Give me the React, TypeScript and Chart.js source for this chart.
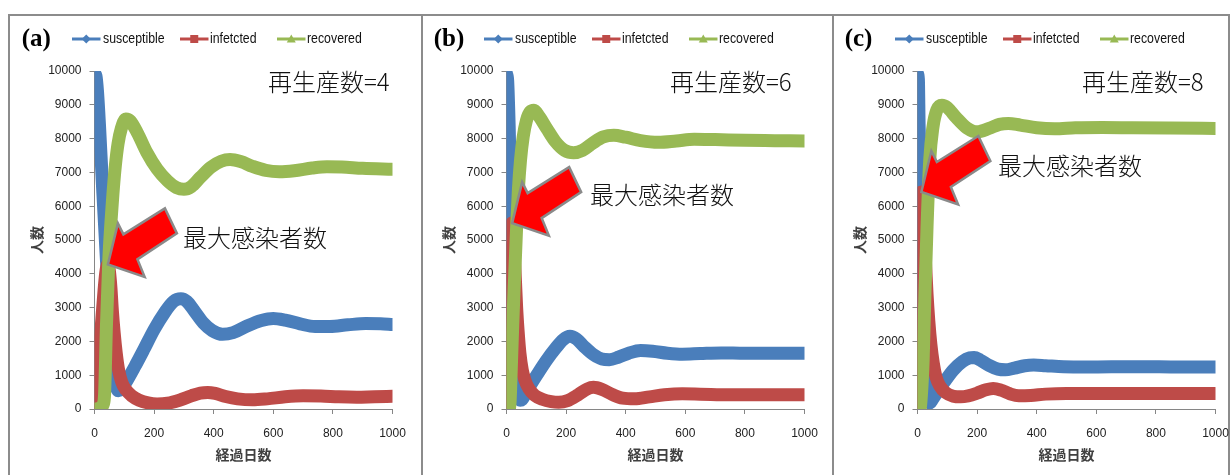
import React, { useEffect, useRef } from 'react';
import { Chart, registerables } from 'chart.js';

Chart.register(...registerables);

type Pt = [number, number];

// ---------- data ----------
const xTicks = [0, 200, 400, 600, 800, 1000];
const yTicks = [0, 1000, 2000, 3000, 4000, 5000, 6000, 7000, 8000, 9000, 10000];
const seriesNames = ['susceptible', 'infetcted', 'recovered'];
const panelLabels = ['(a)', '(b)', '(c)'];
const reproductionNumbers = [4, 6, 8];
const xAxisTitle = '経過日数';
const yAxisTitle = '人数';
const peakNote = '最大感染者数';
const r0Prefix = '再生産数=';

const susceptibleA: Pt[] = [
  [0, 9920], [5, 9850], [10, 9400], [17, 8350], [28, 6400], [40, 4420], [50, 2900], [58, 1800],
  [65, 1100], [72, 680], [80, 540], [90, 580], [105, 780], [135, 1250], [165, 1750], [200, 2350],
  [235, 2850], [265, 3180], [290, 3260], [310, 3180], [335, 2900], [365, 2550], [395, 2320],
  [430, 2210], [465, 2260], [510, 2450], [560, 2620], [600, 2680], [640, 2630], [690, 2520],
  [740, 2440], [790, 2440], [850, 2490], [910, 2530], [960, 2520], [1000, 2500],
];
const infectedA: Pt[] = [
  [0, 150], [6, 500], [12, 1150], [18, 1900], [25, 2700], [32, 3500], [38, 4050], [45, 4280],
  [50, 4080], [55, 3600], [60, 2900], [66, 2250], [73, 1650], [81, 1150], [92, 780], [106, 560],
  [125, 390], [150, 260], [180, 180], [210, 150], [245, 170], [285, 260], [325, 390], [355, 470],
  [380, 490], [405, 460], [440, 370], [480, 300], [530, 270], [580, 300], [640, 360], [700, 390],
  [760, 385], [820, 360], [880, 350], [940, 365], [1000, 375],
];
const recoveredA: Pt[] = [
  [0, 0], [12, 10], [22, 60], [30, 150], [34, 470], [40, 2440], [48, 4400], [55, 5500], [62, 6380],
  [70, 7200], [79, 7850], [90, 8300], [105, 8580], [120, 8520], [145, 8150], [175, 7600],
  [210, 7100], [245, 6750], [275, 6550], [300, 6500], [325, 6580], [355, 6850], [390, 7150],
  [425, 7330], [455, 7380], [490, 7320], [530, 7180], [575, 7060], [620, 7020], [670, 7050],
  [730, 7130], [780, 7170], [830, 7160], [900, 7120], [1000, 7090],
];

const susceptibleB: Pt[] = [
  [0, 9920], [4, 9700], [9, 8350], [14, 6400], [19, 5450], [23, 4400], [28, 3100], [33, 1900],
  [38, 950], [42, 450], [46, 260], [52, 280], [62, 420], [80, 700], [105, 1050], [135, 1450],
  [165, 1800], [190, 2050], [213, 2150], [235, 2070], [260, 1850], [290, 1620], [320, 1480],
  [345, 1460], [375, 1530], [410, 1650], [450, 1730], [490, 1710], [540, 1650], [590, 1620],
  [650, 1640], [720, 1660], [800, 1650], [900, 1650], [1000, 1650],
];
const infectedB: Pt[] = [
  [0, 100], [4, 700], [8, 1900], [11, 3300], [14, 4600], [17, 5400], [19, 5500], [22, 5250],
  [26, 4600], [30, 3800], [34, 3000], [39, 2300], [45, 1650], [53, 1150], [62, 850], [75, 600],
  [95, 400], [120, 290], [150, 220], [175, 200], [205, 250], [240, 420], [270, 590], [292, 640],
  [320, 580], [355, 430], [390, 320], [430, 300], [480, 360], [530, 420], [590, 450], [650, 440],
  [750, 420], [850, 420], [1000, 420],
];
const recoveredB: Pt[] = [
  [0, 0], [8, 0], [12, 200], [17, 1450], [21, 2500], [25, 3420], [30, 4500], [34, 5390],
  [40, 6500], [47, 7360], [56, 8050], [67, 8540], [80, 8800], [92, 8840], [110, 8650],
  [135, 8300], [165, 7900], [195, 7650], [225, 7580], [255, 7650], [290, 7870], [325, 8050],
  [360, 8100], [400, 8040], [450, 7940], [510, 7890], [570, 7930], [630, 7980], [700, 7970],
  [800, 7950], [900, 7940], [1000, 7930],
];

const susceptibleC: Pt[] = [
  [0, 9920], [3, 9750], [5.5, 8350], [10, 7360], [13, 6570], [16, 5500], [20, 3900], [24, 2600],
  [28, 1450], [32, 650], [36, 260], [42, 180], [50, 280], [65, 480], [90, 800], [120, 1150],
  [150, 1400], [175, 1510], [190, 1520], [210, 1450], [240, 1290], [270, 1180], [295, 1160],
  [325, 1210], [360, 1280], [390, 1300], [430, 1280], [490, 1250], [560, 1240], [650, 1250],
  [750, 1250], [850, 1245], [1000, 1240],
];
const infectedC: Pt[] = [
  [0, 100], [3, 800], [6, 2400], [9, 4300], [11, 5600], [13, 6420], [15, 6300], [18, 5900],
  [22, 5200], [27, 4300], [32, 3400], [38, 2600], [45, 1900], [53, 1350], [62, 950], [75, 680],
  [95, 480], [120, 380], [145, 360], [170, 390], [200, 470], [230, 570], [254, 610], [280, 560],
  [310, 450], [340, 390], [380, 400], [430, 440], [500, 460], [600, 460], [800, 455], [1000, 455],
];
const recoveredC: Pt[] = [
  [0, 0], [8, 0], [13, 400], [19, 1450], [25, 3420], [32, 5390], [41, 7360], [52, 8350],
  [65, 8850], [82, 8990], [100, 8920], [130, 8620], [165, 8320], [200, 8200], [240, 8300],
  [275, 8420], [305, 8450], [345, 8400], [400, 8320], [460, 8290], [530, 8320], [620, 8330],
  [720, 8320], [850, 8310], [1000, 8300],
];

// ---------- styling / layout ----------
const COLORS = ['#4A7EBB', '#BE4B48', '#98B954'];
const AXIS_COLOR = '#868686';
const PLOT_LEFT = 85.5; // inside canvas
const PLOT_TOP = 71;
const PLOT_BOTTOM = 409;
const CANVAS_W = 410;
const CANVAS_H = 475;
const PLOT_W = 298;

// arrow shape relative to its tip (pixels)
const ARROW_SHAPE: Pt[] = [
  [0, 0], [10, -41], [15.5, -30], [57, -56], [69, -31], [29.5, -5], [36.7, 12.5],
];

const PANELS = [
  { canvasLeft: 9, series: [susceptibleA, infectedA, recoveredA], r0Left: 268, noteLeft: 183, noteCenter: 238.5 },
  { canvasLeft: 421, series: [susceptibleB, infectedB, recoveredB], r0Left: 670, noteLeft: 590, noteCenter: 195 },
  { canvasLeft: 832, series: [susceptibleC, infectedC, recoveredC], r0Left: 1082, noteLeft: 998, noteCenter: 166.5 },
];

const arrowPlugin = {
  id: 'peakArrow',
  afterDatasetsDraw(chart: any) {
    const data = chart.data.datasets[1].data as { x: number; y: number }[];
    const peak = data.reduce((a, b) => (b.y > a.y ? b : a));
    const tx = chart.scales.x.getPixelForValue(peak.x);
    const ty = chart.scales.y.getPixelForValue(peak.y);
    const ctx = chart.ctx as CanvasRenderingContext2D;
    ctx.save();
    ctx.beginPath();
    ARROW_SHAPE.forEach(([dx, dy], i) => {
      if (i === 0) ctx.moveTo(tx + dx, ty + dy);
      else ctx.lineTo(tx + dx, ty + dy);
    });
    ctx.closePath();
    ctx.fillStyle = '#FF0000';
    ctx.fill();
    ctx.lineWidth = 2.5;
    ctx.strokeStyle = '#8a8a8a';
    ctx.lineJoin = 'miter';
    ctx.stroke();
    ctx.restore();
  },
};

function PanelChart({ idx }: { idx: number }) {
  const ref = useRef<HTMLCanvasElement>(null);
  const cfg = PANELS[idx];
  useEffect(() => {
    const orders = [3, 2, 1];
    const chart = new Chart(ref.current as HTMLCanvasElement, {
      type: 'line',
      data: {
        datasets: cfg.series.map((s, i) => ({
          label: seriesNames[i],
          data: s.map(([x, y]) => ({ x, y })),
          borderColor: COLORS[i],
          backgroundColor: COLORS[i],
          borderWidth: 13,
          pointRadius: 0,
          fill: false,
          cubicInterpolationMode: 'monotone',
          borderJoinStyle: 'round',
          borderCapStyle: 'round',
          order: orders[i],
        })) as any,
      },
      options: {
        animation: false,
        responsive: false,
        devicePixelRatio: 1,
        events: [],
        layout: { padding: { top: PLOT_TOP, left: 0, right: CANVAS_W - PLOT_LEFT - PLOT_W, bottom: 0 } },
        plugins: { legend: { display: false }, tooltip: { enabled: false }, title: { display: false } },
        scales: {
          x: {
            type: 'linear',
            min: 0,
            max: 1000,
            afterBuildTicks: (s: any) => { s.ticks = xTicks.map((v) => ({ value: v })); },
            afterFit: (s: any) => { s.height = CANVAS_H - PLOT_BOTTOM; },
            grid: { drawOnChartArea: false, drawTicks: true, tickLength: 5, color: AXIS_COLOR },
            border: { display: true, color: AXIS_COLOR },
            ticks: {
              font: { family: 'Liberation Sans', size: 12 },
              color: '#222',
              padding: 12,
              maxRotation: 0,
              autoSkip: false,
              callback: (v: any) => String(v),
            },
            title: {
              display: true,
              text: xAxisTitle,
              font: { family: 'Noto Sans CJK JP', size: 14, weight: 'bold' },
              color: '#404040',
              padding: { top: 0, bottom: 11.6 },
            },
          },
          y: {
            type: 'linear',
            min: 0,
            max: 10000,
            afterBuildTicks: (s: any) => { s.ticks = yTicks.map((v) => ({ value: v })); },
            afterFit: (s: any) => { s.width = PLOT_LEFT; },
            grid: { drawOnChartArea: false, drawTicks: true, tickLength: 5, color: AXIS_COLOR },
            border: { display: true, color: AXIS_COLOR },
            ticks: {
              font: { family: 'Liberation Sans', size: 12 },
              color: '#222',
              padding: 8,
              autoSkip: false,
              callback: (v: any) => String(v),
            },
            title: {
              display: true,
              text: yAxisTitle,
              font: { family: 'Noto Sans CJK JP', size: 14, weight: 'bold' },
              color: '#404040',
              padding: { top: 19.6, bottom: 0 },
            },
          },
        },
      } as any,
      plugins: [arrowPlugin],
    });
    return () => chart.destroy();
  }, []);
  return (
    <canvas
      ref={ref}
      width={CANVAS_W}
      height={CANVAS_H}
      style={{ position: 'absolute', left: cfg.canvasLeft, top: 0, width: CANVAS_W, height: CANVAS_H }}
    />
  );
}

function Marker({ kind, color }: { kind: number; color: string }) {
  const cx = 14.25, cy = 5;
  let shape: React.ReactNode = null;
  if (kind === 0) shape = <polygon points={`${cx},${cy - 4.5} ${cx + 4.5},${cy} ${cx},${cy + 4.5} ${cx - 4.5},${cy}`} fill={color} />;
  if (kind === 1) shape = <rect x={cx - 4} y={cy - 4} width={8} height={8} fill={color} />;
  if (kind === 2) shape = <polygon points={`${cx},${cy - 4.5} ${cx + 4.5},${cy + 3.5} ${cx - 4.5},${cy + 3.5}`} fill={color} />;
  return (
    <svg width={28.5} height={10} style={{ display: 'block' }}>
      <line x1={0} y1={cy} x2={28.5} y2={cy} stroke={color} strokeWidth={3} />
      {shape}
    </svg>
  );
}

function PanelOverlay({ idx }: { idx: number }) {
  const cfg = PANELS[idx];
  const ax = cfg.canvasLeft + PLOT_LEFT;
  const lineOffsets = [-22.5, 85.5, 182.5];
  const textOffsets = [8, 115.5, 212.5];
  return (
    <>
      <div style={{ position: 'absolute', left: ax - 72.8, top: 24.6, fontFamily: 'Liberation Serif', fontWeight: 'bold', fontSize: 25, lineHeight: '25px', color: '#000', whiteSpace: 'nowrap' }}>
        {panelLabels[idx]}
      </div>
      {seriesNames.map((n, i) => (
        <React.Fragment key={n}>
          <div style={{ position: 'absolute', left: ax + lineOffsets[i], top: 34 }}>
            <Marker kind={i} color={COLORS[i]} />
          </div>
          <div style={{ position: 'absolute', left: ax + textOffsets[i], top: 30.2, fontFamily: 'Liberation Sans', fontSize: 14, lineHeight: '16px', color: '#111', whiteSpace: 'nowrap', transform: 'scaleX(0.88)', transformOrigin: 'left top' }}>
            {n}
          </div>
        </React.Fragment>
      ))}
      <div style={{ position: 'absolute', left: cfg.r0Left, top: 69, fontFamily: 'Noto Sans CJK JP', fontSize: 24, lineHeight: '24px', color: '#111', whiteSpace: 'nowrap', fontWeight: 300 }}>
        {r0Prefix}{reproductionNumbers[idx]}
      </div>
      <div style={{ position: 'absolute', left: cfg.noteLeft, top: cfg.noteCenter - 13.5, fontFamily: 'Noto Sans CJK JP', fontSize: 24, lineHeight: '24px', color: '#111', whiteSpace: 'nowrap', fontWeight: 300 }}>
        {peakNote}
      </div>
    </>
  );
}

export default function App() {
  const borderColor = '#8c8c8c';
  const vLines = [8, 420.5, 831.5, 1227.5];
  return (
    <div style={{ position: 'fixed', left: 0, top: 0, width: 1231, height: 475, overflow: 'hidden', background: '#fff' }}>
      <div style={{ position: 'absolute', left: 8, top: 14, width: 1221.5, height: 2, background: borderColor }} />
      {vLines.map((x) => (
        <div key={x} style={{ position: 'absolute', left: x, top: 14, width: 2, height: 470, background: borderColor }} />
      ))}
      {PANELS.map((_, i) => <PanelChart key={`c${i}`} idx={i} />)}
      {PANELS.map((_, i) => <PanelOverlay key={`o${i}`} idx={i} />)}
    </div>
  );
}
